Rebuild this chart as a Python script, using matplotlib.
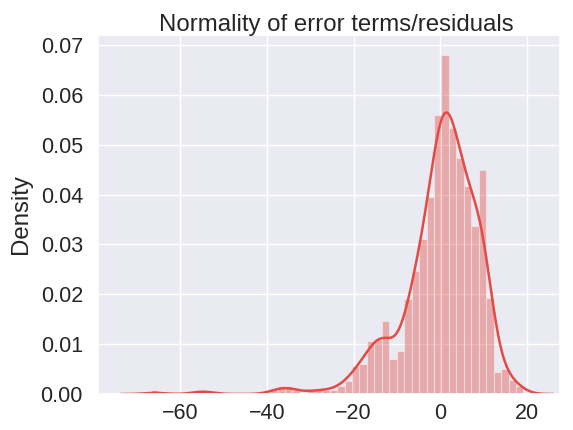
import numpy as np
import matplotlib
matplotlib.use("Agg")
import matplotlib.pyplot as plt
import seaborn as sns

# histogram of residuals (50 bins, density scale)
bin_start = -66.8
bin_width = 1.72
densities = [
    0.0008, 0, 0, 0, 0, 0, 0.0008, 0.0008, 0, 0,            # -66.8 .. -49.6
    0, 0, 0, 0, 0, 0, 0.0008, 0.0016, 0.0016, 0.0008,       # -49.6 .. -32.4
    0, 0.0008, 0.0008, 0.0008, 0.0008, 0.0017, 0.0027, 0.0057, 0.006, 0.0107,  # -32.4 .. -15.2
    0.011, 0.0147, 0.007, 0.0087, 0.019, 0.0247, 0.031, 0.0395, 0.056, 0.068,  # -15.2 .. 2.0
    0.0533, 0.0473, 0.0417, 0.0337, 0.045, 0.0193, 0.0045, 0.005, 0.0028, 0.0017,  # 2.0 .. 19.2
]
kde_bandwidth = 2.3

title = "Normality of error terms/residuals"
y_label = "Density"
x_ticks = [-60, -40, -20, 0, 20]
y_ticks = [0.00, 0.01, 0.02, 0.03, 0.04, 0.05, 0.06, 0.07]

red = "#e34b44"
text_color = "#262626"

sns.set_theme(style="darkgrid")
plt.rcParams['font.family'] = ['Liberation Sans', 'DejaVu Sans']

edges = bin_start + bin_width * np.arange(len(densities) + 1)
centers = (edges[:-1] + edges[1:]) / 2
dens = np.array(densities)

fig = plt.figure(figsize=(5.73, 4.30), dpi=100)
ax = fig.add_axes([0.171, 0.0837, 0.806, 0.835])

ax.hist(centers, bins=edges, weights=dens, color=red, alpha=0.4,
        edgecolor="white", linewidth=0.8)

# gaussian kde built from the binned values
weights = dens * bin_width
weights = weights / weights.sum()
xs = np.linspace(edges[0] - 3 * kde_bandwidth, edges[-1] + 3 * kde_bandwidth, 400)
kde = np.zeros_like(xs)
for c, w in zip(centers, weights):
    kde += w * np.exp(-0.5 * ((xs - c) / kde_bandwidth) ** 2)
kde /= kde_bandwidth * np.sqrt(2 * np.pi)
ax.plot(xs, kde, color=red, linewidth=1.8)

ax.set_xlim(-79, 27.6)
ax.set_ylim(0, 0.072)
ax.set_xticks(x_ticks)
ax.set_yticks(y_ticks)
ax.set_yticklabels(["%.2f" % t for t in y_ticks])
ax.tick_params(axis="x", length=0, labelsize=15.5, pad=6.5, colors=text_color)
ax.tick_params(axis="y", length=0, labelsize=15.5, pad=10.8, colors=text_color)
ax.set_ylabel(y_label, fontsize=17.3, labelpad=6.5, color=text_color)
ax.set_title(title, fontsize=17.3, color=text_color, pad=2.5, x=0.515)

fig.savefig("out.png", dpi=100)
